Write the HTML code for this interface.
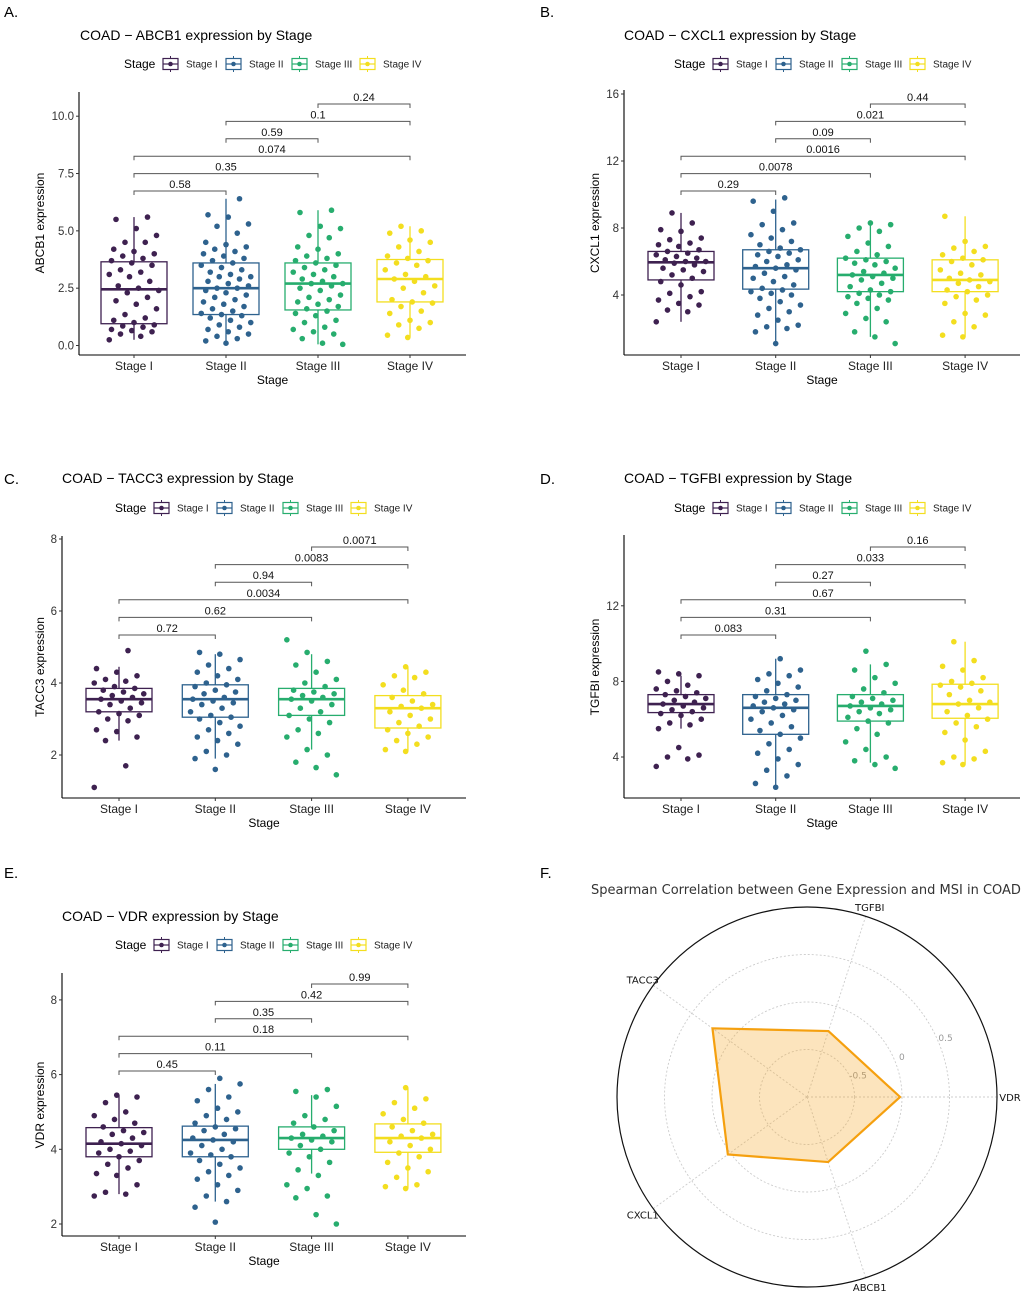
<!DOCTYPE html>
<html><head><meta charset="utf-8"><style>
html,body{margin:0;padding:0;background:#fff;}
svg{display:block;font-family:"Liberation Sans",Arial,sans-serif;}
</style></head><body>
<svg id="fig" width="1024" height="1293" viewBox="0 0 1024 1293" xmlns="http://www.w3.org/2000/svg"></svg>
<script>
const stages = ['Stage I','Stage II','Stage III','Stage IV'];
const stageColors = ['#3E2150','#2E628E','#27AD6E','#F3DE1F'];
const pairs = [[0,1],[0,2],[0,3],[1,2],[1,3],[2,3]];

// Panel A - ABCB1
const abcb1Ticks = [0,2.5,5,7.5,10];
const abcb1TickLabels = ['0.0','2.5','5.0','7.5','10.0'];
const abcb1Q1 = [0.95,1.35,1.55,1.9];
const abcb1Med = [2.45,2.5,2.7,2.9];
const abcb1Q3 = [3.65,3.6,3.6,3.75];
const abcb1Lo = [0.25,0.1,0.05,0.35];
const abcb1Hi = [5.6,6.4,5.9,5.2];
const abcb1Pvals = ['0.58','0.35','0.074','0.59','0.1','0.24'];
const abcb1Pts = [
[0.25,0.4,0.5,0.6,0.65,0.7,0.8,0.85,0.9,1.0,1.1,1.2,1.35,1.6,1.8,1.95,2.1,2.3,2.4,2.5,2.6,2.8,3.0,3.1,3.2,3.3,3.5,3.6,3.7,3.8,3.9,4.0,4.1,4.2,4.5,4.5,4.8,5.1,5.5,5.6],
[0.1,0.2,0.3,0.4,0.5,0.6,0.7,0.8,0.9,1.0,1.1,1.2,1.3,1.35,1.4,1.5,1.6,1.7,1.8,1.9,2.0,2.1,2.2,2.3,2.4,2.5,2.5,2.6,2.7,2.8,2.9,3.0,3.0,3.1,3.2,3.3,3.4,3.5,3.6,3.7,3.8,3.9,4.0,4.1,4.2,4.3,4.4,4.5,4.9,5.2,5.3,5.6,5.7,6.4],
[0.05,0.1,0.3,0.5,0.6,0.7,0.8,1.0,1.1,1.3,1.4,1.5,1.6,1.7,1.8,1.9,2.0,2.1,2.2,2.4,2.5,2.6,2.7,2.7,2.8,2.9,3.0,3.1,3.2,3.3,3.4,3.5,3.6,3.7,3.8,3.9,4.0,4.2,4.3,4.7,4.8,5.1,5.2,5.8,5.9],
[0.35,0.45,0.75,0.9,1.0,1.1,1.4,1.5,1.7,1.85,1.9,2.0,2.3,2.5,2.6,2.8,2.9,3.0,3.1,3.3,3.5,3.6,3.7,3.8,3.9,4.1,4.3,4.5,4.6,4.9,5.0,5.2]];

// Panel B - CXCL1
const cxcl1Ticks = [4,8,12,16];
const cxcl1TickLabels = ['4','8','12','16'];
const cxcl1Q1 = [4.9,4.35,4.2,4.2];
const cxcl1Med = [5.95,5.6,5.2,4.9];
const cxcl1Q3 = [6.6,6.7,6.2,6.1];
const cxcl1Lo = [2.4,1.1,1.5,1.5];
const cxcl1Hi = [8.9,9.7,8.3,8.7];
const cxcl1Pvals = ['0.29','0.0078','0.0016','0.09','0.021','0.44'];
const cxcl1Pts = [
[2.4,3.0,3.1,3.4,3.5,3.7,3.9,4.1,4.2,4.6,4.8,5.0,5.2,5.4,5.5,5.6,5.8,5.9,6.0,6.0,6.1,6.2,6.3,6.4,6.5,6.6,6.7,6.9,7.0,7.1,7.3,7.4,7.8,7.9,8.3,8.9],
[1.1,1.8,2.0,2.1,2.2,2.5,2.8,3.0,3.2,3.4,3.6,3.8,4.0,4.1,4.2,4.3,4.4,4.6,4.8,5.0,5.1,5.3,5.5,5.6,5.7,5.8,6.0,6.1,6.3,6.4,6.5,6.6,6.7,6.8,7.0,7.2,7.4,7.6,7.9,8.2,8.3,9.0,9.6,9.8],
[1.1,1.5,1.8,2.4,2.6,2.9,3.2,3.5,3.7,3.8,3.9,4.0,4.1,4.2,4.3,4.5,4.7,4.9,5.0,5.1,5.2,5.3,5.4,5.6,5.8,5.9,6.0,6.1,6.2,6.4,6.6,6.9,7.1,7.5,7.8,8.0,8.2,8.3],
[1.5,1.6,2.1,2.4,2.8,2.9,3.5,3.7,3.9,4.0,4.2,4.3,4.5,4.7,4.8,4.9,5.0,5.2,5.3,5.5,5.8,6.0,6.1,6.2,6.4,6.6,6.8,6.9,7.2,8.7]];

// Panel C - TACC3
const tacc3Ticks = [2,4,6,8];
const tacc3TickLabels = ['2','4','6','8'];
const tacc3Q1 = [3.2,3.05,3.1,2.75];
const tacc3Med = [3.55,3.55,3.55,3.3];
const tacc3Q3 = [3.85,3.95,3.85,3.65];
const tacc3Lo = [2.4,1.9,2.15,2.1];
const tacc3Hi = [4.45,4.8,4.8,4.45];
const tacc3Pvals = ['0.72','0.62','0.0034','0.94','0.0083','0.0071'];
const tacc3Pts = [
[1.1,1.7,2.4,2.5,2.65,2.7,2.95,3.0,3.1,3.15,3.2,3.3,3.4,3.45,3.5,3.55,3.6,3.65,3.7,3.75,3.8,3.85,3.9,4.0,4.05,4.1,4.2,4.3,4.4,4.9],
[1.6,1.9,2.0,2.1,2.3,2.4,2.5,2.6,2.7,2.8,2.9,3.0,3.05,3.1,3.2,3.3,3.4,3.45,3.5,3.55,3.6,3.7,3.75,3.8,3.9,3.95,4.0,4.1,4.2,4.3,4.4,4.5,4.65,4.8,4.85],
[1.45,1.65,1.8,2.0,2.15,2.5,2.6,2.7,2.9,3.0,3.1,3.2,3.3,3.4,3.5,3.55,3.6,3.65,3.7,3.75,3.8,3.9,4.0,4.1,4.3,4.5,4.6,4.85,5.2],
[2.1,2.15,2.3,2.4,2.5,2.6,2.7,2.8,2.9,3.0,3.1,3.2,3.3,3.35,3.4,3.5,3.6,3.7,3.8,3.95,4.15,4.2,4.3,4.45]];

// Panel D - TGFBI
const tgfbiTicks = [4,8,12];
const tgfbiTickLabels = ['4','8','12'];
const tgfbiQ1 = [6.35,5.2,5.9,6.05];
const tgfbiMed = [6.8,6.6,6.7,6.8];
const tgfbiQ3 = [7.3,7.3,7.3,7.85];
const tgfbiLo = [5.5,2.4,3.7,3.6];
const tgfbiHi = [8.3,9.2,8.9,10.1];
const tgfbiPvals = ['0.083','0.31','0.67','0.27','0.033','0.16'];
const tgfbiPts = [
[3.5,3.9,4.0,4.1,4.5,5.5,5.7,5.8,6.0,6.2,6.3,6.4,6.5,6.6,6.7,6.8,6.9,7.0,7.1,7.2,7.3,7.4,7.5,7.6,7.8,8.0,8.3,8.4,8.5],
[2.4,2.6,3.0,3.3,3.6,3.9,4.2,4.4,4.7,5.0,5.2,5.4,5.6,5.8,6.0,6.2,6.4,6.5,6.6,6.7,6.8,6.9,7.0,7.1,7.2,7.3,7.5,7.7,7.9,8.1,8.3,8.4,8.6,9.2],
[3.4,3.6,3.8,4.0,4.4,4.8,5.2,5.5,5.8,5.9,6.1,6.3,6.4,6.5,6.6,6.7,6.8,6.9,7.0,7.1,7.2,7.4,7.6,7.9,8.2,8.6,8.9,9.6],
[3.6,3.7,3.9,4.0,4.3,4.9,5.3,5.6,5.8,6.0,6.2,6.4,6.6,6.8,6.9,7.0,7.3,7.5,7.7,7.8,7.9,8.0,8.2,8.6,8.8,9.1,10.1]];

// Panel E - VDR
const vdrTicks = [2,4,6,8];
const vdrTickLabels = ['2','4','6','8'];
const vdrQ1 = [3.8,3.8,4.0,3.92];
const vdrMed = [4.15,4.25,4.3,4.3];
const vdrQ3 = [4.58,4.62,4.6,4.68];
const vdrLo = [2.8,2.6,3.35,2.95];
const vdrHi = [5.45,5.75,5.45,5.65];
const vdrPvals = ['0.45','0.11','0.18','0.35','0.42','0.99'];
const vdrPts = [
[2.75,2.8,2.85,3.05,3.3,3.35,3.5,3.6,3.7,3.8,3.9,3.95,4.0,4.1,4.15,4.2,4.3,4.4,4.45,4.5,4.6,4.7,4.8,4.9,5.0,5.25,5.4,5.45],
[2.05,2.45,2.6,2.75,2.9,3.05,3.2,3.3,3.4,3.5,3.6,3.7,3.8,3.85,3.9,4.0,4.1,4.2,4.25,4.3,4.4,4.5,4.55,4.6,4.7,4.8,4.9,5.0,5.1,5.3,5.4,5.6,5.75,5.9],
[2.0,2.25,2.7,2.75,2.95,3.05,3.3,3.45,3.65,3.8,3.9,4.0,4.1,4.2,4.25,4.3,4.35,4.4,4.5,4.6,4.7,4.8,4.9,5.15,5.4,5.55,5.6],
[2.95,3.0,3.05,3.25,3.4,3.5,3.65,3.8,3.9,4.0,4.1,4.2,4.3,4.35,4.4,4.5,4.6,4.7,4.8,4.95,5.1,5.25,5.35,5.65]];

// Panel F - radar
const radarGenes = ['VDR','TGFBI','TACC3','CXCL1','ABCB1'];
const radarValues = [-0.02,-0.27,0.23,0.03,-0.28];
const radarRings = [-0.5,0,0.5];
const radarRingLabels = ['-0.5','0','0.5'];

const NS='http://www.w3.org/2000/svg';
const svg=document.getElementById('fig');
function mk(tag,attrs,parent){const e=document.createElementNS(NS,tag);for(const k in attrs)e.setAttribute(k,attrs[k]);(parent||svg).appendChild(e);return e;}
function txt(s,attrs,parent){const e=mk('text',attrs,parent);e.textContent=s;return e;}

function panel(c){
  const g=mk('g',{});
  
  
  const y=v=>c.y0-v*c.k;
  const xc=i=>c.c0+i*c.dx;
  const lbl=txt(c.letter,{x:c.letterX,y:c.letterY,'font-size':15,fill:'#000'},g);
  
  
  const t=txt(c.title,{x:c.titleX,y:c.titleY,'font-size':14,fill:'#000'},g);
  
  
  const lg=mk('g',{},g);
  
  
  txt('Stage',{x:c.legX,y:c.legY+4,'font-size':12,fill:'#000'},lg);
  const koff=[39,102,168,236];
  stages.forEach((s,i)=>{
    const kx=c.legX+koff[i], ky=c.legY;
    const it=mk('g',{},lg);
    
    
    mk('line',{x1:kx+7.5,x2:kx+7.5,y1:ky-8,y2:ky+8,stroke:stageColors[i],'stroke-width':1},it);
    mk('rect',{x:kx,y:ky-5.5,width:15,height:11,fill:'#fff',stroke:stageColors[i],'stroke-width':1.2},it);
    mk('line',{x1:kx,x2:kx+15,y1:ky,y2:ky,stroke:stageColors[i],'stroke-width':1.2},it);
    mk('circle',{cx:kx+7.5,cy:ky,r:2.3,fill:stageColors[i]},it);
    txt(s,{x:kx+23,y:ky+3.5,'font-size':10,fill:'#222'},it);
  });
  const ax=mk('g',{},g);
  
  
  mk('line',{x1:c.axX,x2:c.axX,y1:c.axTop,y2:c.axBot,stroke:'#000','stroke-width':1.1},ax);
  mk('line',{x1:c.axX,x2:c.axRight,y1:c.axBot,y2:c.axBot,stroke:'#000','stroke-width':1.1},ax);
  c.ticks.forEach((v,i)=>{
    mk('line',{x1:c.axX-3,x2:c.axX,y1:y(v),y2:y(v),stroke:'#333'},ax);
    const tl=txt(c.tickLabels[i],{x:c.axX-5,y:y(v)+4,'font-size':11.5,'text-anchor':'end',fill:'#333'},ax);
    
    
  });
  stages.forEach((s,i)=>{
    mk('line',{x1:xc(i),x2:xc(i),y1:c.axBot,y2:c.axBot+3,stroke:'#333'},ax);
    const tl=txt(s,{x:xc(i),y:c.axBot+15,'font-size':12,'text-anchor':'middle',fill:'#222'},ax);
    
    
  });
  const xt=txt('Stage',{x:(c.axX+c.axRight)/2,y:c.axBot+29,'font-size':12,'text-anchor':'middle',fill:'#000'},ax);
  
  
  const yt=txt(c.ytitle,{x:0,y:0,'font-size':12,'text-anchor':'middle',fill:'#000',transform:`translate(${c.ytX},${c.ytY}) rotate(-90)`},ax);
  
  
  const hw=33;
  stages.forEach((s,i)=>{
    const bg=mk('g',{},g);
    
    
    const col=stageColors[i], x=xc(i);
    mk('line',{x1:x,x2:x,y1:y(c.lo[i]),y2:y(c.q1[i]),stroke:col,'stroke-width':1.3},bg);
    mk('line',{x1:x,x2:x,y1:y(c.q3[i]),y2:y(c.hi[i]),stroke:col,'stroke-width':1.3},bg);
    mk('rect',{x:x-hw,y:y(c.q3[i]),width:2*hw,height:y(c.q1[i])-y(c.q3[i]),fill:'#fff',stroke:col,'stroke-width':1.3},bg);
    mk('line',{x1:x-hw,x2:x+hw,y1:y(c.med[i]),y2:y(c.med[i]),stroke:col,'stroke-width':2.6},bg);
    c.pts[i].forEach((v,j)=>{
      const jit=(((j*37+i*11)%23)/22-0.5)*2*hw*0.75;
      const p=mk('circle',{cx:x+jit,cy:y(v),r:2.8,fill:col},bg);
      
      
    });
  });
  pairs.forEach((pr,k)=>{
    const by=c.brBase-k*c.brStep;
    const bg=mk('g',{},g);
    
    
    const x1=xc(pr[0]),x2=xc(pr[1]);
    mk('polyline',{points:`${x1},${by+4} ${x1},${by} ${x2},${by} ${x2},${by+4}`,fill:'none',stroke:'#555','stroke-width':1},bg);
    txt(c.pvals[k],{x:(x1+x2)/2,y:by-3,'font-size':11,'text-anchor':'middle',fill:'#111'},bg);
  });
}

panel({name:'abcb1',letter:'A.',letterX:4,letterY:17,title:'COAD − ABCB1 expression by Stage',titleX:80,titleY:40,legX:124,legY:64,
 axX:79,axTop:92,axBot:355,axRight:466,c0:134,dx:92,y0:345.5,k:22.93,ytX:44,ytY:223,ytitle:'ABCB1 expression',
 ticks:abcb1Ticks,tickLabels:abcb1TickLabels,q1:abcb1Q1,med:abcb1Med,q3:abcb1Q3,lo:abcb1Lo,hi:abcb1Hi,pts:abcb1Pts,pvals:abcb1Pvals,brBase:191,brStep:17.4});
panel({name:'cxcl1',letter:'B.',letterX:540,letterY:17,title:'COAD − CXCL1 expression by Stage',titleX:624,titleY:40,legX:674,legY:64,
 axX:624,axTop:90,axBot:355,axRight:1020,c0:681,dx:94.7,y0:362,k:16.75,ytX:599,ytY:223,ytitle:'CXCL1 expression',
 ticks:cxcl1Ticks,tickLabels:cxcl1TickLabels,q1:cxcl1Q1,med:cxcl1Med,q3:cxcl1Q3,lo:cxcl1Lo,hi:cxcl1Hi,pts:cxcl1Pts,pvals:cxcl1Pvals,brBase:191,brStep:17.4});
panel({name:'tacc3',letter:'C.',letterX:4,letterY:484,title:'COAD − TACC3 expression by Stage',titleX:62,titleY:483,legX:115,legY:508,
 axX:62,axTop:536,axBot:798,axRight:466,c0:119,dx:96.3,y0:827,k:36,ytX:44,ytY:667,ytitle:'TACC3 expression',
 ticks:tacc3Ticks,tickLabels:tacc3TickLabels,q1:tacc3Q1,med:tacc3Med,q3:tacc3Q3,lo:tacc3Lo,hi:tacc3Hi,pts:tacc3Pts,pvals:tacc3Pvals,brBase:635,brStep:17.6});
panel({name:'tgfbi',letter:'D.',letterX:540,letterY:484,title:'COAD − TGFBI expression by Stage',titleX:624,titleY:483,legX:674,legY:508,
 axX:624,axTop:535,axBot:798,axRight:1020,c0:681,dx:94.7,y0:832.6,k:18.9,ytX:599,ytY:667,ytitle:'TGFBI expression',
 ticks:tgfbiTicks,tickLabels:tgfbiTickLabels,q1:tgfbiQ1,med:tgfbiMed,q3:tgfbiQ3,lo:tgfbiLo,hi:tgfbiHi,pts:tgfbiPts,pvals:tgfbiPvals,brBase:635,brStep:17.6});
panel({name:'vdr',letter:'E.',letterX:4,letterY:878,title:'COAD − VDR expression by Stage',titleX:62,titleY:921,legX:115,legY:945,
 axX:62,axTop:973,axBot:1236,axRight:466,c0:119,dx:96.3,y0:1298.7,k:37.35,ytX:44,ytY:1105,ytitle:'VDR expression',
 ticks:vdrTicks,tickLabels:vdrTickLabels,q1:vdrQ1,med:vdrMed,q3:vdrQ3,lo:vdrLo,hi:vdrHi,pts:vdrPts,pvals:vdrPvals,brBase:1071,brStep:17.4});

(function(){
  const g=mk('g',{});
  
  
  const cx=807, cy=1097, R=190;
  const r=v=>(v+1)*R/2;
  const ang=i=>i*2*Math.PI/radarGenes.length;
  const lbl=txt('F.',{x:540,y:878,'font-size':15,fill:'#000'},g);
  
  
  const t=txt('Spearman Correlation between Gene Expression and MSI in COAD',{x:806,y:894,'font-size':13,'text-anchor':'middle',fill:'#333','font-family':'DejaVu Sans, sans-serif'},g);
  
  
  radarRings.forEach((v,i)=>{
    mk('circle',{cx,cy,r:r(v),fill:'none',stroke:'#ccc','stroke-dasharray':'2,2','stroke-width':0.9},g);
    const a=23*Math.PI/180;
    const rl=txt(radarRingLabels[i],{x:cx+(r(v)+8)*Math.cos(a),y:cy-(r(v)+8)*Math.sin(a)+3,'font-size':9,'text-anchor':'middle',fill:'#999','font-family':'DejaVu Sans, sans-serif'},g);
    
    
  });
  radarGenes.forEach((gname,i)=>{
    const a=ang(i);
    mk('line',{x1:cx,y1:cy,x2:cx+R*Math.cos(a),y2:cy-R*Math.sin(a),stroke:'#ccc','stroke-dasharray':'2,2','stroke-width':0.9},g);
    const gl=txt(gname,{x:cx+203*Math.cos(a),y:cy-200*Math.sin(a)+4,'font-size':10,'text-anchor':'middle',fill:'#111','font-family':'DejaVu Sans, sans-serif'},g);
    
    
  });
  mk('circle',{cx,cy,r:R,fill:'none',stroke:'#111','stroke-width':1.2},g);
  const pts=radarValues.map((v,i)=>[cx+r(v)*Math.cos(ang(i)),cy-r(v)*Math.sin(ang(i))].join(',')).join(' ');
  const poly=mk('polygon',{points:pts,fill:'rgba(245,166,35,0.3)',stroke:'#F5A00F','stroke-width':2.2,'stroke-linejoin':'miter'},g);
  
  
})();
</script>
</body></html>
